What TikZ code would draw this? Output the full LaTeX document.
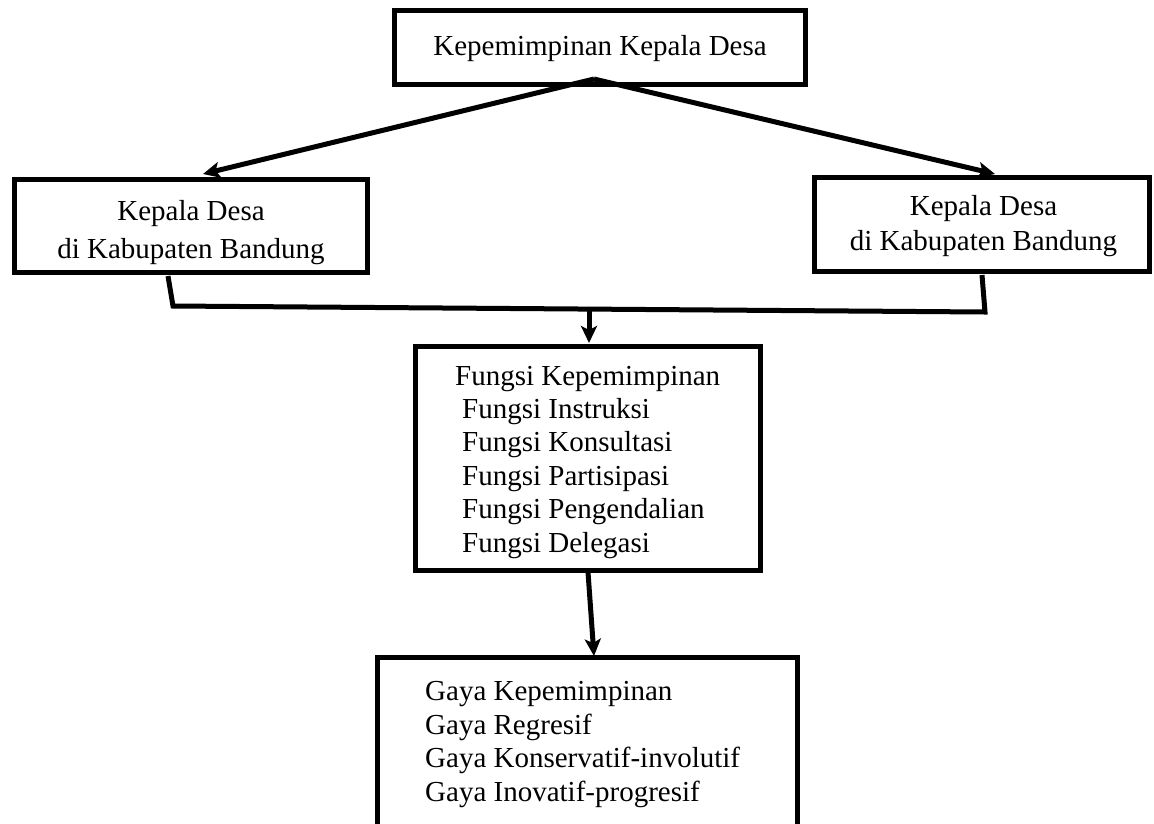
\documentclass[tikz,border=0pt]{standalone}
\usepackage{fontspec}
\setmainfont{Liberation Serif}
\usetikzlibrary{arrows.meta}
\begin{document}
\begin{tikzpicture}[x=1pt,y=-1pt,
  box/.style={draw=black,line width=5pt,fill=white,inner sep=0pt},
  txt/.style={inner sep=0pt,font=\fontsize{29}{33}\selectfont},
  conn/.style={line width=5pt,line join=miter},
  arr/.style={conn,-{Stealth[length=17pt,width=16pt,inset=4pt]}}]
\useasboundingbox (0,0) rectangle (1154,823);
% boxes
\node[box,minimum width=411pt,minimum height=74pt] (top) at (600,47.5) {};
\node[box,minimum width=353pt,minimum height=93pt] (L) at (191,226) {};
\node[box,minimum width=335pt,minimum height=94pt] (R) at (981.5,224.5) {};
\node[box,minimum width=345pt,minimum height=224pt] (M) at (588,458.5) {};
\node[box,minimum width=420pt,minimum height=171pt] (B) at (587.5,743) {};
% texts
\node[txt,anchor=base] (topt) at (600,55) {Kepemimpinan Kepala Desa};
\node[txt,anchor=base] (L1) at (191,220) {Kepala Desa};
\node[txt,anchor=base] (L2) at (191,258) {di Kabupaten Bandung};
\node[txt,anchor=base] (R1) at (983.5,215) {Kepala Desa};
\node[txt,anchor=base] (R2) at (983.5,250) {di Kabupaten Bandung};
\node[txt,anchor=base west] (M1) at (455,385) {Fungsi Kepemimpinan};
\node[txt,anchor=base west] (M2) at (462,418.4) {Fungsi Instruksi};
\node[txt,anchor=base west] (M3) at (462,451.8) {Fungsi Konsultasi};
\node[txt,anchor=base west] (M4) at (462,485.2) {Fungsi Partisipasi};
\node[txt,anchor=base west] (M5) at (462,518.6) {Fungsi Pengendalian};
\node[txt,anchor=base west] (M6) at (462,552) {Fungsi Delegasi};
\node[txt,anchor=base west] (B1) at (425,700) {Gaya Kepemimpinan};
\node[txt,anchor=base west] (B2) at (425,734) {Gaya Regresif};
\node[txt,anchor=base west] (B3) at (425,767.5) {Gaya Konservatif-involutif};
\node[txt,anchor=base west] (B4) at (425,801.5) {Gaya Inovatif-progresif};
% helper coordinates
\coordinate (apex) at (594,79);
\coordinate (ltip) at (203,174);
\coordinate (rtip) at (995,174);
\coordinate (lb) at (168,276);
\coordinate (lc) at (173,306);
\coordinate (rc) at (985,312);
\coordinate (rb) at (982,275);
\coordinate (mid) at (589,309);
\coordinate (mtop) at (589,343);
\coordinate (mbot) at (588,572);
\coordinate (btop) at (594,656);
% connectors
\draw[arr] (apex) -- (ltip);
\draw[arr] (apex) -- (rtip);
\draw[conn] (lb) -- (lc) -- (rc) -- (rb);
\draw[arr] (mid) -- (mtop);
\draw[arr] (mbot) -- (btop);
\end{tikzpicture}
\end{document}
